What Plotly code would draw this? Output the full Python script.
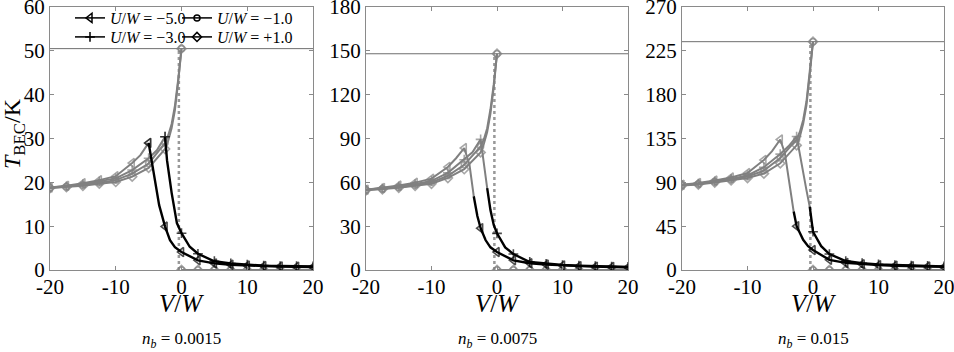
import plotly.graph_objects as go

# ---------------- data ----------------
GRID = [-20, -17.5, -15, -12.5, -10, -7.5, -5, -2.5, 0, 2.5, 5, 7.5, 10, 12.5, 15, 17.5, 20]
V_NEG = [-20, -17.5, -15, -12.5, -10, -7.5, -5, -2.5, -2, -1.5, -1, -0.5, -0.2, 0]
V_POS = [0, 2.5, 5, 7.5, 10, 12.5, 15, 17.5, 20]
T_ZERO = [0, 0, 0, 0, 0, 0, 0, 0, 0]
V_JUMP = -0.4
T_MAX = [50.5, 148.0, 234.4]
Y_MAX = [60, 180, 270]
Y_DTICK = [10, 30, 45]
NB_LABELS = ["0.0015", "0.0075", "0.015"]
X_TICKS = [-20, -10, 0, 10, 20]
X_TICKTEXT = ["-20", "-10", "0", "10", "20"]

# panel 1  (n_b = 0.0015)
P1_V_M5 = [-20, -17.5, -15, -12.5, -10, -7.5, -6.25, -5, -4.3, -3.4, -2.5, -1.75, -1, 0, 2.5, 5, 7.5, 10, 12.5, 15, 17.5, 20]
P1_T_M5 = [18.8, 19.2, 19.8, 20.5, 21.4, 24.4, 26.2, 29.0, 22.5, 14.8, 9.9, 6.8, 5.2, 4.1, 2.2, 1.5, 1.2, 1.0, 0.9, 0.8, 0.75, 0.7]
P1_SPLIT_M5 = 7
P1_V_M3 = [-20, -17.5, -15, -12.5, -10, -7.5, -5, -3.75, -2.5, -2.2, -1.5, -0.7, 0, 1.25, 2.5, 5, 7.5, 10, 12.5, 15, 17.5, 20]
P1_T_M3 = [18.8, 19.1, 19.6, 20.2, 20.9, 22.8, 25.5, 27.3, 30.4, 25.0, 17.6, 10.7, 8.4, 5.3, 3.7, 2.0, 1.5, 1.2, 1.0, 0.9, 0.85, 0.8]
P1_SPLIT_M3 = 8
P1_T_M1 = [18.7, 19.0, 19.4, 19.9, 20.5, 22.0, 24.3, 29.0, 30.8, 33.3, 37.5, 43.5, 47.5, 50.5]
P1_T_P1 = [18.7, 18.9, 19.2, 19.7, 20.1, 21.3, 23.3, 27.6, 29.6, 32.4, 36.5, 43.0, 47.2, 50.5]

# panel 2  (n_b = 0.0075)
P2_V_M5 = [-20, -17.5, -15, -12.5, -10, -7.5, -6.25, -5, -4.2, -3.55, -3.0, -2.5, -1.75, -1, 0, 2.5, 5, 7.5, 10, 12.5, 15, 17.5, 20]
P2_T_M5 = [55.0, 56.2, 57.8, 59.8, 62.5, 70.5, 76.5, 83.5, 72.0, 50.5, 37.0, 28.6, 20.5, 15.5, 12.3, 6.6, 4.6, 3.7, 3.1, 2.6, 2.3, 2.1, 1.9]
P2_SPLIT_M5 = 9
P2_V_M3 = [-20, -17.5, -15, -12.5, -10, -7.5, -5, -3.75, -2.5, -2.1, -1.5, -1.0, -0.5, 0, 1.25, 2.5, 5, 7.5, 10, 12.5, 15, 17.5, 20]
P2_T_M3 = [54.9, 55.8, 57.2, 58.8, 61.0, 66.5, 75.5, 80.5, 89.4, 75.0, 56.0, 41.0, 30.8, 25.1, 15.5, 10.9, 5.5, 4.2, 3.4, 2.9, 2.6, 2.3, 2.1]
P2_SPLIT_M3 = 10
P2_T_M1 = [54.7, 55.4, 56.6, 58.2, 60.0, 64.5, 72.0, 84.5, 89.5, 97.0, 110.0, 127.0, 139.0, 148.0]
P2_T_P1 = [54.6, 55.2, 56.3, 57.6, 59.0, 63.0, 69.0, 80.5, 86.5, 94.5, 107.0, 125.0, 138.0, 148.0]

# panel 3  (n_b = 0.015)
P3_V_M5 = [-20, -17.5, -15, -12.5, -10, -7.5, -6.25, -5, -4.3, -3.6, -2.95, -2.5, -1.5, -0.75, 0, 2.5, 5, 7.5, 10, 12.5, 15, 17.5, 20]
P3_T_M5 = [87.5, 89.2, 91.8, 95.0, 99.5, 113.0, 122.0, 134.0, 120.0, 90.0, 60.0, 45.0, 31.0, 24.5, 20.5, 10.4, 7.3, 5.9, 5.0, 4.4, 3.9, 3.5, 3.2]
P3_SPLIT_M5 = 10
P3_V_M3 = [-20, -17.5, -15, -12.5, -10, -7.5, -5, -3.75, -2.5, -1.8, -1.0, -0.5, -0.25, 0, 1.25, 2.5, 5, 7.5, 10, 12.5, 15, 17.5, 20]
P3_T_M3 = [87.3, 88.7, 91.0, 93.5, 97.0, 105.5, 119.0, 127.0, 137.0, 110.0, 82.0, 65.0, 52.0, 39.3, 24.5, 16.4, 9.2, 7.0, 5.8, 5.0, 4.5, 4.1, 3.7]
P3_SPLIT_M3 = 11
P3_T_M1 = [87.0, 88.3, 90.5, 93.0, 96.0, 102.0, 115.0, 134.0, 142.0, 154.0, 173.0, 204.0, 222.0, 234.4]
P3_T_P1 = [86.8, 87.8, 89.8, 92.0, 94.5, 99.0, 109.5, 128.0, 137.0, 150.0, 169.0, 200.0, 220.0, 234.4]

PANELS = [
    dict(m5=(P1_V_M5, P1_T_M5, P1_SPLIT_M5), m3=(P1_V_M3, P1_T_M3, P1_SPLIT_M3), m1=P1_T_M1, p1=P1_T_P1),
    dict(m5=(P2_V_M5, P2_T_M5, P2_SPLIT_M5), m3=(P2_V_M3, P2_T_M3, P2_SPLIT_M3), m1=P2_T_M1, p1=P2_T_P1),
    dict(m5=(P3_V_M5, P3_T_M5, P3_SPLIT_M5), m3=(P3_V_M3, P3_T_M3, P3_SPLIT_M3), m1=P3_T_M1, p1=P3_T_P1),
]

# ---------------- style ----------------
W, H = 954, 352
GRAY = "#808080"
BLACK = "#000000"
AXIS = "#8a8a8a"
FONT = "Liberation Serif"
SYMBOLS = {"m5": ("triangle-left-open", 8), "m3": ("cross-thin-open", 7),
           "m1": ("circle-open", 6), "p1": ("diamond-open", 7)}
# (series, label, legend id, left px, top px)
LEG_LABELS = [("m5", "\u22125.0", "legend", 70, 1), ("m3", "\u22123.0", "legend2", 70, 20),
              ("m1", "\u22121.0", "legend3", 177, 1), ("p1", "+1.0", "legend4", 177, 20)]

X_DOMAINS = [(50 / W, 313 / W), (366 / W, 628 / W), (682 / W, 944 / W)]
Y_DOMAIN = ((H - 270) / H, (H - 7) / H)

fig = go.Figure()


def seg(ax, v, t, color, key, width=2):
    sym, sz = SYMBOLS[key]
    sizes = [sz if x in GRID else 0 for x in v]
    fig.add_trace(go.Scatter(
        x=v, y=t, mode="lines+markers", xaxis="x" + ax, yaxis="y" + ax,
        line=dict(color=color, width=width),
        marker=dict(symbol=sym, size=sizes, color=color, line=dict(color=color, width=1.6)),
        showlegend=False, hoverinfo="skip"))


for i, p in enumerate(PANELS):
    ax = "" if i == 0 else str(i + 1)
    fig.add_trace(go.Scatter(x=[-20, 20], y=[T_MAX[i], T_MAX[i]], mode="lines", xaxis="x" + ax, yaxis="y" + ax,
                             line=dict(color="#6e6e6e", width=1), showlegend=False, hoverinfo="skip"))
    fig.add_trace(go.Scatter(x=[V_JUMP, V_JUMP], y=[0, T_MAX[i]], mode="lines", xaxis="x" + ax, yaxis="y" + ax,
                             line=dict(color="#999999", width=2.5, dash="dot"), showlegend=False, hoverinfo="skip"))
    for key in ("p1", "m1"):
        seg(ax, V_NEG, p[key], GRAY, key)
        seg(ax, V_POS, T_ZERO, GRAY, key)
    for key in ("m3", "m5"):
        v, t, s = p[key]
        seg(ax, v[:s + 1], t[:s + 1], GRAY, key)
    for key in ("m3", "m5"):
        v, t, s = p[key]
        seg(ax, v[s:], t[s:], BLACK, key, width=2.4)

layout = dict(
    width=W, height=H, margin=dict(l=0, r=0, t=0, b=0, autoexpand=False),
    plot_bgcolor="white", paper_bgcolor="white",
    font=dict(family=FONT, size=18, color="black"),
    showlegend=True,
    annotations=[],
)

for key, lab, leg, lx, ly in LEG_LABELS:
    sym, sz = SYMBOLS[key]
    fig.add_trace(go.Scatter(x=[None], y=[None], mode="lines+markers", xaxis="x", yaxis="y",
                             name="<i>U</i>/<i>W</i> = " + lab, legend=leg,
                             line=dict(color=BLACK, width=1.5),
                             marker=dict(symbol=sym, size=sz, color=BLACK, line=dict(color=BLACK, width=1.5))))
    layout[leg] = dict(x=lx / W, y=1 - ly / H, xanchor="left", yanchor="top", bgcolor="rgba(0,0,0,0)",
                       font=dict(family=FONT, size=16), itemwidth=30)

for i in range(3):
    ax = "" if i == 0 else str(i + 1)
    layout["xaxis" + ax] = dict(
        domain=X_DOMAINS[i], range=[-20, 20], anchor="y" + ax, automargin=False,
        tickvals=X_TICKS, ticktext=X_TICKTEXT, ticklabeloverflow="allow",
        showline=True, mirror="ticks", linecolor=AXIS, linewidth=1,
        ticks="inside", ticklen=4, tickcolor=AXIS, showgrid=False, zeroline=False,
        tickfont=dict(family=FONT, size=21), ticklabelstandoff=-2,
    )
    layout["yaxis" + ax] = dict(
        domain=Y_DOMAIN, range=[0, Y_MAX[i]], anchor="x" + ax, dtick=Y_DTICK[i], tick0=0,
        automargin=False, ticklabeloverflow="allow",
        showline=True, mirror="ticks", linecolor=AXIS, linewidth=1,
        ticks="inside", ticklen=4, tickcolor=AXIS, showgrid=False, zeroline=False,
        tickfont=dict(family=FONT, size=21),
    )
    xc = (X_DOMAINS[i][0] + X_DOMAINS[i][1]) / 2
    layout["annotations"].append(dict(
        text="<i>V</i>/<i>W</i>", x=xc, y=(H - 303) / H, xref="paper", yref="paper",
        xanchor="center", yanchor="middle", showarrow=False, font=dict(family=FONT, size=25)))
    layout["annotations"].append(dict(
        text="<i>n</i><sub><i>b</i></sub> = " + NB_LABELS[i], x=xc, y=(H - 340) / H, xref="paper", yref="paper",
        xanchor="center", yanchor="middle", showarrow=False, font=dict(family=FONT, size=17)))

layout["annotations"].append(dict(
    text="<i>T</i><sub>BEC</sub>/K", x=14 / W, y=(H - 134) / H, xref="paper", yref="paper",
    xanchor="center", yanchor="middle", textangle=-90, showarrow=False, font=dict(family=FONT, size=24)))

fig.update_layout(**layout)
fig.write_html("out.html", config={"displayModeBar": False},
               post_script="document.body.style.margin='0px';")
